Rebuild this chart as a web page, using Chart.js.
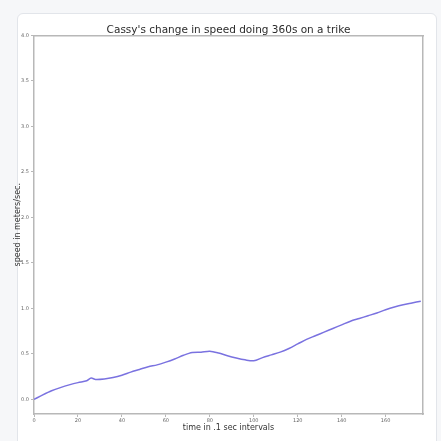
<!DOCTYPE html>
<html>
<head>
<meta charset="utf-8">
<script src="https://cdn.jsdelivr.net/npm/chart.js@4"></script>
<style>
  body { margin: 0; background: #f6f7f9; font-family: "DejaVu Sans", sans-serif; }
  .card { position: absolute; left: 17px; top: 13px; width: 418px; height: 440px;
          background: #fff; border: 1px solid #e2e5ea; border-radius: 6px; }
  .wrap { position: absolute; left: 0; top: 0; width: 441px; height: 441px; }
</style>
</head>
<body>
<div class="card"></div>
<div class="wrap"><canvas id="speedChart"></canvas></div>
<script>
// time in .1 sec intervals (x) and speed in m/s (y)
const times = [0, 4, 8, 12, 16, 20, 24, 26, 28, 32, 36, 40, 44, 48, 52, 56, 60, 64, 68, 72, 76, 80,
  84, 88, 92, 96, 100, 104, 108, 112, 116, 120, 124, 128, 132, 136, 140, 144, 148, 152, 156, 160,
  164, 168, 172, 176];
const speeds = [0.00, 0.05, 0.095, 0.13, 0.16, 0.185, 0.205, 0.235, 0.22, 0.225, 0.24, 0.265, 0.30,
  0.33, 0.36, 0.38, 0.41, 0.445, 0.485, 0.515, 0.52, 0.53, 0.51, 0.48, 0.455, 0.435, 0.425, 0.46,
  0.49, 0.52, 0.56, 0.61, 0.66, 0.70, 0.74, 0.78, 0.82, 0.86, 0.89, 0.92, 0.95, 0.985, 1.015, 1.04,
  1.06, 1.08];

const xTicks = [0, 20, 40, 60, 80, 100, 120, 140, 160];
const yTicks = [0.0, 0.5, 1.0, 1.5, 2.0, 2.5, 3.0, 3.5, 4.0];

const spine = '#b8b8b8';
const tickFont = { family: 'DejaVu Sans', size: 5 };

const ctx = document.getElementById('speedChart').getContext('2d');
new Chart(ctx, {
  type: 'line',
  data: {
    datasets: [{
      data: times.map((t, i) => ({ x: t, y: speeds[i] })),
      borderColor: '#7a72e0',
      borderWidth: 1.5,
      pointRadius: 0,
      tension: 0.3,
      fill: false
    }]
  },
  options: {
    responsive: true,
    maintainAspectRatio: false,
    animation: false,
    layout: { padding: { top: 25, right: 18, bottom: 0, left: 0 } },
    plugins: {
      legend: { display: false },
      tooltip: { enabled: false },
      title: {
        display: true,
        fullSize: false,
        text: "Cassy's change in speed doing 360s on a trike",
        color: '#2b2b2b',
        font: { family: 'DejaVu Sans', size: 10.5, weight: 'normal', lineHeight: 1 },
        padding: { top: 0, bottom: 0 }
      }
    },
    scales: {
      x: {
        type: 'linear',
        min: 0,
        max: 177,
        afterBuildTicks: s => { s.ticks = xTicks.map(v => ({ value: v })); },
        afterFit: s => { s.height = 27; },
        grid: { display: true, drawOnChartArea: false, tickLength: 3, color: spine },
        border: { display: true, color: spine, width: 1.5 },
        ticks: { color: '#666', font: tickFont, padding: 1, maxRotation: 0, autoSkip: false },
        title: {
          display: true,
          text: 'time in .1 sec intervals',
          color: '#333',
          font: { family: 'DejaVu Sans', size: 8 },
          padding: { top: 0, bottom: 8 }
        }
      },
      xTop: {
        type: 'linear',
        position: 'top',
        min: 0,
        max: 177,
        afterFit: s => { s.height = 0; },
        grid: { display: false },
        border: { display: true, color: spine, width: 1.5 },
        ticks: { display: false }
      },
      y: {
        min: -0.16,
        max: 4.0,
        afterBuildTicks: s => { s.ticks = yTicks.map(v => ({ value: v })); },
        afterFit: s => { s.width = 34; },
        grid: { display: true, drawOnChartArea: false, tickLength: 3, color: spine },
        border: { display: true, color: spine, width: 1.5 },
        ticks: { color: '#666', font: tickFont, padding: 2, callback: v => v.toFixed(1) },
        title: {
          display: true,
          text: 'speed in meters/sec.',
          color: '#333',
          font: { family: 'DejaVu Sans', size: 8 },
          padding: { top: 13, bottom: 0 }
        }
      },
      yRight: {
        position: 'right',
        min: -0.16,
        max: 4.0,
        afterFit: s => { s.width = 0; },
        grid: { display: false },
        border: { display: true, color: spine, width: 1.5 },
        ticks: { display: false }
      }
    }
  }
});
</script>
</body>
</html>
